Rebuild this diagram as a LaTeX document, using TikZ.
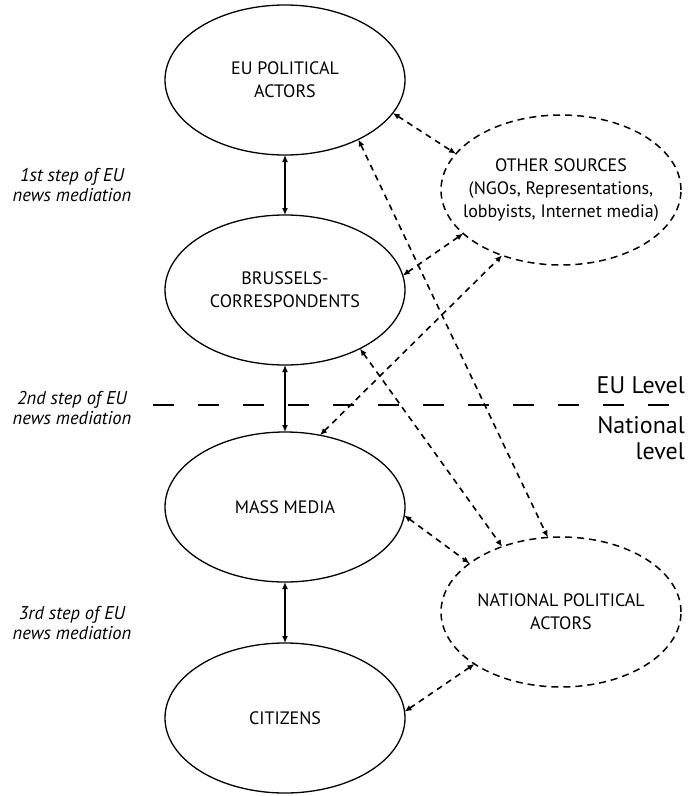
\documentclass[tikz,border=0pt]{standalone}
\usepackage{fontspec}
\setmainfont{PT Sans}
\usetikzlibrary{positioning, calc, arrows.meta, shapes}
\tikzset{actor/.style={ellipse, draw, line width=1.3pt, minimum width=240pt, minimum height=150pt, inner sep=0pt, outer sep=0pt, align=center, font=\fontsize{18}{23}\selectfont}}
\tikzset{source/.style={actor, dash pattern=on 7pt off 5pt, line width=1.5pt}}
\tikzset{flow/.style={{Latex[length=7pt,width=6pt]}-{Latex[length=7pt,width=6pt]}, line width=1.3pt}}
\tikzset{link/.style={flow, dash pattern=on 6pt off 5pt, line width=1.6pt}}
\tikzset{steplabel/.style={align=center, font=\itshape\fontsize{18.5}{20}\selectfont}}
\tikzset{levellabel/.style={align=right, inner sep=0pt, font=\fontsize{24}{26}\selectfont}}

\begin{document}
\begin{tikzpicture}[x=1pt, y=1pt]
  \useasboundingbox (0,0) rectangle (688,-796);

  % main chain
  \node[actor] (eu) at (285,-80) {EU POLITICAL\\ACTORS};
  \node[actor] (bru) [below=60pt of eu] {BRUSSELS-\\CORRESPONDENTS};
  \node[actor] (mass) [below=67pt of bru] {MASS MEDIA};
  \node[actor] (cit) [below=61pt of mass] {CITIZENS};

  \draw[flow] (eu) -- (bru);
  \draw[flow] (bru) -- (mass);
  \draw[flow] (mass) -- (cit);

  % side sources
  \node[source, inner xsep=-14pt] (other) at (561,-190) {OTHER SOURCES\\(NGOs, Representations,\\lobbyists, Internet media)};
  \node[source] (nat) at (561,-612) {NATIONAL POLITICAL\\ACTORS};

  \draw[link] (eu.-17) -- (other.161);
  \draw[link] (bru.7) -- (other.204);
  \draw[link] (mass.64) -- (other.228);
  \draw[link] (eu.-39) -- (nat.100);
  \draw[link] (bru.-38) -- (nat.132);
  \draw[link] (mass.-4) -- (nat.152);
  \draw[link] (cit.3) -- (nat.211);

  % EU / national divide
  \coordinate (divl) at (153,-405);
  \coordinate (divr) at (670,-405);
  \draw[line width=2.5pt, dash pattern=on 21pt off 24pt] (divl) -- (divr);
  \node[levellabel, anchor=east] (eulevel) at (685,-385) {EU Level};
  \node[levellabel, anchor=north east] (natlevel) at (685,-416) {National\\level};

  % steps
  \node[steplabel] (step1) at (72,-185) {1st step of EU\\news mediation};
  \node[steplabel] (step2) at (72,-408) {2nd step of EU\\news mediation};
  \node[steplabel] (step3) at (72,-623) {3rd step of EU\\news mediation};
\end{tikzpicture}
\end{document}
